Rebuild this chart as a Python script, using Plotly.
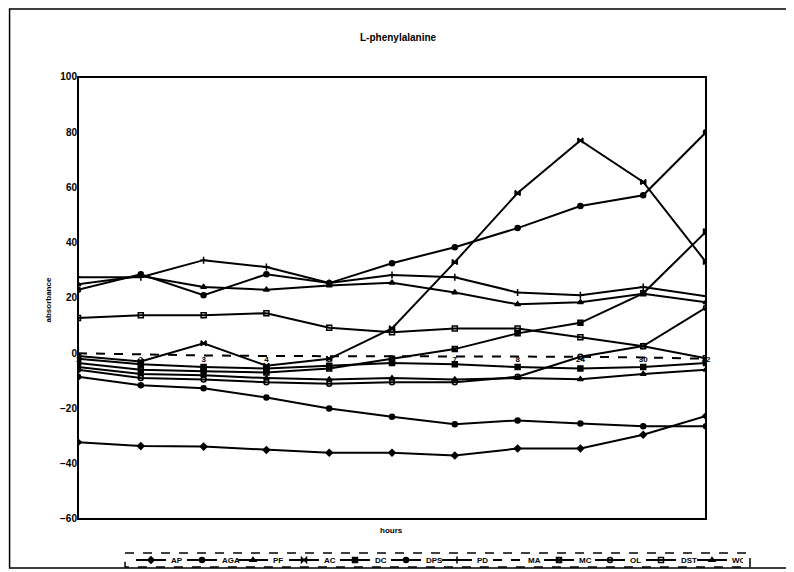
import plotly.graph_objects as go

hours = ["1", "2", "3", "4", "5", "6", "7", "8", "24", "30", "32"]
x_idx = list(range(len(hours)))

AP = [-32.2, -33.6, -33.8, -35, -36, -36, -37, -34.5, -34.5, -29.5, -22.7]
AGA = [-8.5, -11.6, -12.7, -16, -20, -23, -25.7, -24.3, -25.4, -26.4, -26.4]
PF = [25, 28, 24, 23, 24.5, 25.5, 22, 17.7, 18.5, 21.5, 18.5]
AC = [-1, -3, 3.6, -4.5, -2, 9, 33, 58, 77, 62, 33]
DC = [-2, -4, -5, -5.5, -4.5, -3.5, -4, -5, -5.5, -5, -3.5]
DPS = [23, 28.6, 21, 28.6, 25.4, 32.6, 38.4, 45.3, 53.3, 57.2, 80]
PD = [27.5, 27.5, 33.7, 31.2, 25.4, 28.3, 27.5, 22, 21, 24, 20.6]
MA = [0, -0.5, -0.8, -1, -1, -1, -1, -1.2, -1.3, -1.5, -2]
MC = [-3.5, -6, -6.5, -7, -5.5, -2, 1.5, 7.2, 11, 21.7, 44]
OL = [-6, -9, -9.5, -10.5, -11, -10.5, -10.5, -8.5, -1.3, 2.6, 16.5]
DST = [12.8, 13.8, 13.8, 14.5, 9.2, 7.6, 9, 9, 5.8, 2.5, -1.8]
WC = [-5, -7.5, -8, -9, -9.5, -9, -9.5, -9, -9.4, -7.5, -6]

series = [
    ("AP", AP, "diamond", "solid"),
    ("AGA", AGA, "circle", "solid"),
    ("PF", PF, "triangle-up", "solid"),
    ("AC", AC, "bowtie", "solid"),
    ("DC", DC, "square", "solid"),
    ("DPS", DPS, "circle", "solid"),
    ("PD", PD, "cross-thin-open", "solid"),
    ("MA", MA, None, "dash"),
    ("MC", MC, "square-x-open", "solid"),
    ("OL", OL, "circle-open", "solid"),
    ("DST", DST, "square-open", "solid"),
    ("WC", WC, "triangle-up-open", "solid"),
]

fig = go.Figure()
for name, vals, sym, dash in series:
    if sym is None:
        fig.add_trace(go.Scatter(x=x_idx, y=vals, name=name, mode="lines",
                                 line=dict(color="black", width=2, dash=dash)))
    else:
        fig.add_trace(go.Scatter(x=x_idx, y=vals, name=name, mode="lines+markers",
                                 line=dict(color="black", width=2, dash=dash),
                                 marker=dict(symbol=sym, size=5, color="black",
                                             line=dict(color="black", width=1.5))))

bold = dict(family="Liberation Sans, Arial, sans-serif", color="black", weight="bold")

fig.update_layout(
    width=786, height=564,
    margin=dict(l=0, r=0, t=0, b=0, autoexpand=False),
    paper_bgcolor="white", plot_bgcolor="white",
    showlegend=True,
    legend=dict(orientation="h", x=0.5458, xanchor="center", y=0.0213, yanchor="middle",
                font=dict(size=8, **bold), itemwidth=30, tracegroupgap=0,
                bgcolor="rgba(0,0,0,0)", entrywidth=6, entrywidthmode="pixels"),
    xaxis=dict(domain=[0.08906, 0.88804], range=[0, 10], tickvals=x_idx, ticktext=hours,
               anchor="free", position=0.3883,
               showgrid=False, zeroline=False, showline=False, ticks="",
               tickfont=dict(size=8, **bold)),
    yaxis=dict(domain=[0.09397, 0.87766], range=[-60, 100],
               tickvals=[-60, -40, -20, 0, 20, 40, 60, 80, 100],
               showgrid=False, zeroline=False, showline=False, ticks="",
               tickfont=dict(size=10, **bold)),
    shapes=[
        dict(type="rect", xref="x domain", yref="y domain", x0=0, x1=1, y0=0, y1=1,
             line=dict(color="black", width=2)),
        dict(type="rect", xref="paper", yref="paper", x0=0.002, x1=0.9924, y0=0.0071, y1=0.9982,
             line=dict(color="black", width=1.5)),
        dict(type="rect", xref="paper", yref="paper", x0=0.1489, x1=0.9440, y0=0.0337, y1=0.0089,
             line=dict(color="black", width=1.5, dash="dash")),
    ],
    annotations=[
        dict(text="L-phenylalanine", xref="paper", yref="paper", x=0.4962, y=0.9610,
             showarrow=False, font=dict(size=10, **bold)),
        dict(text="absorbance", xref="paper", yref="paper", x=0.0433, y=0.4823,
             showarrow=False, textangle=-90, font=dict(size=8, **bold)),
        dict(text="hours", xref="paper", yref="paper", x=0.4873, y=0.0621,
             showarrow=False, font=dict(size=8, **bold)),
    ],
)

fig.write_html("out.html")
